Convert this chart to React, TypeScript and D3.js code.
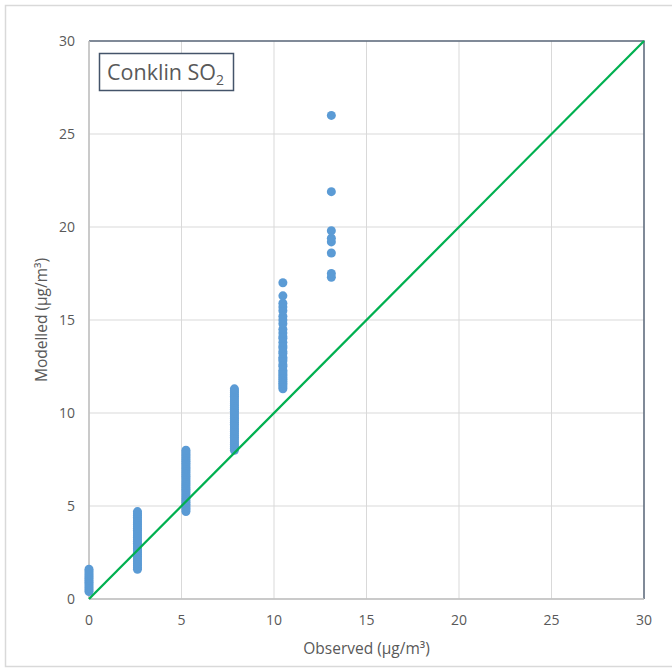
import React from "react";
import * as d3 from "d3";

// Observed concentrations (µg/m³) — one column per observed level
const observedLevels = [0, 2.62, 5.24, 7.86, 10.48, 13.1];

// Modelled concentrations (µg/m³) at each observed level
const modelledAt0 = [0.4, 0.5, 0.6, 0.7, 0.8, 0.9, 1.0, 1.1, 1.2, 1.3, 1.4, 1.5, 1.6];
const modelledAt262 = [
  1.6, 1.7, 1.8, 1.9, 2.0, 2.1, 2.2, 2.3, 2.4, 2.5, 2.6, 2.7, 2.8, 2.9, 3.0, 3.1,
  3.2, 3.3, 3.4, 3.5, 3.6, 3.7, 3.8, 3.9, 4.0, 4.1, 4.2, 4.3, 4.4, 4.5, 4.6, 4.7,
];
const modelledAt524 = [
  4.7, 4.8, 4.9, 5.0, 5.1, 5.2, 5.3, 5.4, 5.5, 5.6, 5.7, 5.8, 5.9, 6.0, 6.1, 6.2,
  6.3, 6.4, 6.5, 6.6, 6.7, 6.8, 6.9, 7.0, 7.1, 7.2, 7.3, 7.4, 7.5, 7.6, 7.7, 7.8,
  7.9, 8.0,
];
const modelledAt786 = [
  8.0, 8.1, 8.2, 8.3, 8.4, 8.5, 8.6, 8.7, 8.8, 8.9, 9.0, 9.1, 9.2, 9.3, 9.4, 9.5,
  9.6, 9.7, 9.8, 9.9, 10.0, 10.1, 10.2, 10.3, 10.4, 10.5, 10.6, 10.7, 10.8, 10.9,
  11.0, 11.1, 11.2, 11.3,
];
const modelledAt1048 = [
  11.3, 11.4, 11.5, 11.6, 11.7, 11.8, 11.9, 12.0, 12.1, 12.2, 12.3, 12.5, 12.6,
  12.8, 12.9, 13.0, 13.2, 13.3, 13.5, 13.6, 13.8, 14.0, 14.1, 14.3, 14.5, 14.8,
  15.0, 15.2, 15.5, 15.7, 15.9, 16.3, 17.0,
];
const modelledAt131 = [17.3, 17.5, 18.6, 19.2, 19.4, 19.8, 21.9, 26.0];

const modelledColumns = [
  modelledAt0,
  modelledAt262,
  modelledAt524,
  modelledAt786,
  modelledAt1048,
  modelledAt131,
];

const xTicks = [0, 5, 10, 15, 20, 25, 30];
const yTicks = [0, 5, 10, 15, 20, 25, 30];
const oneToOne = [0, 30];

const W = 672;
const H = 669;
const plot = { left: 89, right: 644, top: 41, bottom: 599 };

const FONT = "'Open Sans', 'Noto Sans', sans-serif";
const TEXT = "#595959";
const GRID = "#D9D9D9";
const DOT = "#5B9BD5";
const LINE = "#00B050";
const FRAME = "#44546A";

export default function App() {
  const x = d3.scaleLinear().domain([0, 30]).range([plot.left, plot.right]);
  const y = d3.scaleLinear().domain([0, 30]).range([plot.bottom, plot.top]);

  const points = observedLevels.flatMap((obs, i) =>
    modelledColumns[i].map((m) => ({ obs, m }))
  );

  const line = d3
    .line<number>()
    .x((d) => x(d))
    .y((d) => y(d));

  return (
    <svg
      width={W}
      height={H}
      style={{ position: "absolute", left: 0, top: 0, background: "#fff" }}
      fontFamily={FONT}
    >
      {/* chart frame */}
      <rect x={5.5} y={5.5} width={W + 10} height={H - 8} fill="#fff" stroke={GRID} strokeWidth={1.5} />

      {/* gridlines */}
      {xTicks.map((t) => (
        <line key={"gx" + t} x1={x(t)} x2={x(t)} y1={plot.top} y2={plot.bottom} stroke={GRID} strokeWidth={1} />
      ))}
      {yTicks.map((t) => (
        <line key={"gy" + t} x1={plot.left} x2={plot.right} y1={y(t)} y2={y(t)} stroke={GRID} strokeWidth={1} />
      ))}

      {/* plot-area border, top and right */}
      <polyline
        points={`${plot.left},${plot.top} ${plot.right},${plot.top} ${plot.right},${plot.bottom}`}
        fill="none"
        stroke={FRAME}
        strokeWidth={1.5}
        opacity={0.85}
      />
      {/* axis lines */}
      <line x1={plot.left} x2={plot.left} y1={plot.top} y2={plot.bottom} stroke="#BFBFBF" strokeWidth={1.5} />
      <line x1={plot.left} x2={plot.right} y1={plot.bottom} y2={plot.bottom} stroke="#BFBFBF" strokeWidth={1.5} />

      {/* tick labels */}
      {xTicks.map((t) => (
        <text key={"tx" + t} x={x(t)} y={625} textAnchor="middle" fontSize={14} fill={TEXT}>
          {t}
        </text>
      ))}
      {yTicks.map((t) => (
        <text key={"ty" + t} x={75} y={y(t) + 5} textAnchor="end" fontSize={14} fill={TEXT}>
          {t}
        </text>
      ))}

      {/* axis titles */}
      <text x={(plot.left + plot.right) / 2} y={654} textAnchor="middle" fontSize={15.5} fill={TEXT}>
        Observed (µg/m³)
      </text>
      <text
        transform={`translate(47, ${(plot.top + plot.bottom) / 2}) rotate(-90)`}
        textAnchor="middle"
        fontSize={15.5}
        fill={TEXT}
      >
        Modelled (µg/m³)
      </text>

      {/* observations */}
      {points.map((p, i) => (
        <circle key={i} cx={x(p.obs)} cy={y(p.m)} r={4.5} fill={DOT} />
      ))}

      {/* 1:1 line */}
      <path d={line(oneToOne) || ""} fill="none" stroke={LINE} strokeWidth={2.25} />

      {/* site label */}
      <rect x={99.5} y={53.5} width={134} height={37} fill="#fff" stroke={FRAME} strokeWidth={1.5} />
      <text x={107} y={80} fontSize={21.5} fill={TEXT}>
        Conklin SO
        <tspan fontSize={14} dy={5}>2</tspan>
      </text>
    </svg>
  );
}
